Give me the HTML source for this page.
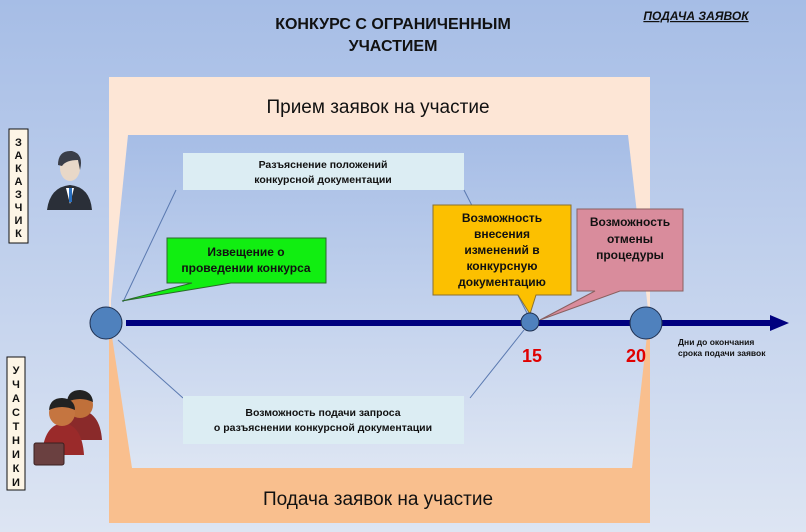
<!DOCTYPE html>
<html><head><meta charset="utf-8"><style>
body{margin:0;width:806px;height:532px;overflow:hidden;font-family:"Liberation Sans","Noto Sans CJK SC",sans-serif}
</style></head><body>
<svg width="806" height="532" xmlns="http://www.w3.org/2000/svg" style="display:block">
<defs>
<linearGradient id="bg" x1="0" y1="0" x2="0" y2="1">
<stop offset="0" stop-color="#a6bde6"/><stop offset="1" stop-color="#dde5f3"/>
</linearGradient>
</defs>
<rect width="806" height="532" fill="url(#bg)"/>
<rect x="109" y="77" width="541" height="246" fill="#fde6d6"/>
<rect x="109" y="323" width="541" height="200" fill="#f9bf8e"/>
<polygon points="128,135 628,135 649,318 632,468 132,468 111,330 111,300" fill="url(#bg)"/>
<text x="378" y="113" font-size="19" text-anchor="middle" fill="#111">Прием заявок на участие</text>
<text x="378" y="505" font-size="19" text-anchor="middle" fill="#111">Подача заявок на участие</text>
<text x="393" y="29" font-size="16" font-weight="bold" text-anchor="middle" fill="#111">КОНКУРС С ОГРАНИЧЕННЫМ</text>
<text x="393" y="51" font-size="16" font-weight="bold" text-anchor="middle" fill="#111">УЧАСТИЕМ</text>
<text x="696" y="20" font-size="12" font-weight="bold" font-style="italic" text-anchor="middle" fill="#111" text-decoration="underline">ПОДАЧА ЗАЯВОК</text>
<!-- thin lines -->
<g stroke="#5a79b0" stroke-width="1">
<line x1="176" y1="190" x2="123" y2="302"/>
<line x1="464" y1="190" x2="528" y2="315"/>
<line x1="118" y1="340" x2="183" y2="398"/>
<line x1="470" y1="398" x2="524" y2="330"/>
</g>
<rect x="183" y="153" width="281" height="37" fill="#dcedf3"/>
<text x="323" y="168" font-size="10.5" font-weight="bold" text-anchor="middle" fill="#111">Разъяснение положений</text>
<text x="323" y="183" font-size="10.5" font-weight="bold" text-anchor="middle" fill="#111">конкурсной документации</text>
<rect x="183" y="396" width="281" height="48" fill="#dcedf3"/>
<text x="323" y="416" font-size="10.5" font-weight="bold" text-anchor="middle" fill="#111">Возможность подачи запроса</text>
<text x="323" y="431" font-size="10.5" font-weight="bold" text-anchor="middle" fill="#111">о разъяснении конкурсной документации</text>
<!-- green callout -->
<polygon points="167,238 326,238 326,283 231,283 122,301 192,283 167,283" fill="#11ee11" stroke="#2a6a2a" stroke-width="1"/>
<text x="246" y="256" font-size="12" font-weight="bold" text-anchor="middle" fill="#111">Извещение о</text>
<text x="246" y="272" font-size="12" font-weight="bold" text-anchor="middle" fill="#111">проведении конкурса</text>
<!-- pink callout -->
<polygon points="577,209 683,209 683,291 620,291 540,320 595,291 577,291" fill="#d98c9c" stroke="#8a6060" stroke-width="1"/>
<text x="630" y="226" font-size="12" font-weight="bold" text-anchor="middle" fill="#111">Возможность</text>
<text x="630" y="243" font-size="12" font-weight="bold" text-anchor="middle" fill="#111">отмены</text>
<text x="630" y="259" font-size="12" font-weight="bold" text-anchor="middle" fill="#111">процедуры</text>
<!-- orange callout -->
<polygon points="433,205 571,205 571,295 536,295 530,314 518,295 433,295" fill="#fcc000" stroke="#8a7030" stroke-width="1"/>
<text x="502" y="222" font-size="12" font-weight="bold" text-anchor="middle" fill="#111">Возможность</text>
<text x="502" y="238" font-size="12" font-weight="bold" text-anchor="middle" fill="#111">внесения</text>
<text x="502" y="254" font-size="12" font-weight="bold" text-anchor="middle" fill="#111">изменений в</text>
<text x="502" y="270" font-size="12" font-weight="bold" text-anchor="middle" fill="#111">конкурсную</text>
<text x="502" y="286" font-size="12" font-weight="bold" text-anchor="middle" fill="#111">документацию</text>
<!-- axis -->
<rect x="126" y="320" width="646" height="6" fill="#00007f"/>
<polygon points="770,315 789,323 770,331" fill="#00007f"/>
<circle cx="106" cy="323" r="16" fill="#4f81bd" stroke="#1f3050" stroke-width="1"/>
<circle cx="530" cy="322" r="9" fill="#4f81bd" stroke="#1f3050" stroke-width="1"/>
<circle cx="646" cy="323" r="16" fill="#4f81bd" stroke="#1f3050" stroke-width="1"/>
<text x="532" y="362" font-size="18" font-weight="bold" text-anchor="middle" fill="#e00000">15</text>
<text x="636" y="362" font-size="18" font-weight="bold" text-anchor="middle" fill="#e00000">20</text>
<text x="678" y="345" font-size="8.5" font-weight="bold" fill="#111">Дни до окончания</text>
<text x="678" y="356" font-size="8.5" font-weight="bold" fill="#111">срока подачи заявок</text>
<!-- side labels -->
<rect x="9" y="129" width="19" height="114" fill="#fdf5e6" stroke="#111"/>
<text font-size="11" font-weight="bold" text-anchor="middle" fill="#111">
<tspan x="18.5" y="146">З</tspan><tspan x="18.5" y="159">А</tspan><tspan x="18.5" y="172">К</tspan><tspan x="18.5" y="185">А</tspan><tspan x="18.5" y="198">З</tspan><tspan x="18.5" y="211">Ч</tspan><tspan x="18.5" y="224">И</tspan><tspan x="18.5" y="237">К</tspan></text>
<rect x="7" y="357" width="18" height="133" fill="#fdf5e6" stroke="#111"/>
<text font-size="11" font-weight="bold" text-anchor="middle" fill="#111">
<tspan x="16" y="374">У</tspan><tspan x="16" y="388">Ч</tspan><tspan x="16" y="402">А</tspan><tspan x="16" y="416">С</tspan><tspan x="16" y="430">Т</tspan><tspan x="16" y="444">Н</tspan><tspan x="16" y="458">И</tspan><tspan x="16" y="472">К</tspan><tspan x="16" y="486">И</tspan></text>
<!-- customer icon -->
<path d="M47,210 Q50,187 70,185 Q90,187 92,210 Z" fill="#2a2f38"/>
<polygon points="66,188 74,188 70,204" fill="#fff"/>
<rect x="69" y="188" width="3" height="14" fill="#2a70c0"/>
<ellipse cx="70" cy="168" rx="10" ry="13" fill="#e8d8c8"/>
<path d="M58,165 Q58,150 72,151 Q84,154 80,170 L78,160 Q66,160 62,166 Z" fill="#3a3e48"/>
<!-- participants icon -->
<path d="M58,440 Q60,412 80,410 Q100,412 102,440 Z" fill="#8a2a2a"/>
<circle cx="80" cy="405" r="13" fill="#c0703a"/>
<path d="M67,402 Q68,390 80,390 Q92,391 93,402 Q80,396 67,402Z" fill="#222"/>
<path d="M42,455 Q44,425 63,423 Q82,425 84,455 Z" fill="#9a2a2a"/>
<circle cx="62" cy="413" r="13" fill="#c57540"/>
<path d="M49,410 Q50,398 62,398 Q75,399 75,410 Q62,404 49,410Z" fill="#222"/>
<rect x="34" y="443" width="30" height="22" rx="2" fill="#6a4040" stroke="#3a2020"/>
</svg>
</body></html>
